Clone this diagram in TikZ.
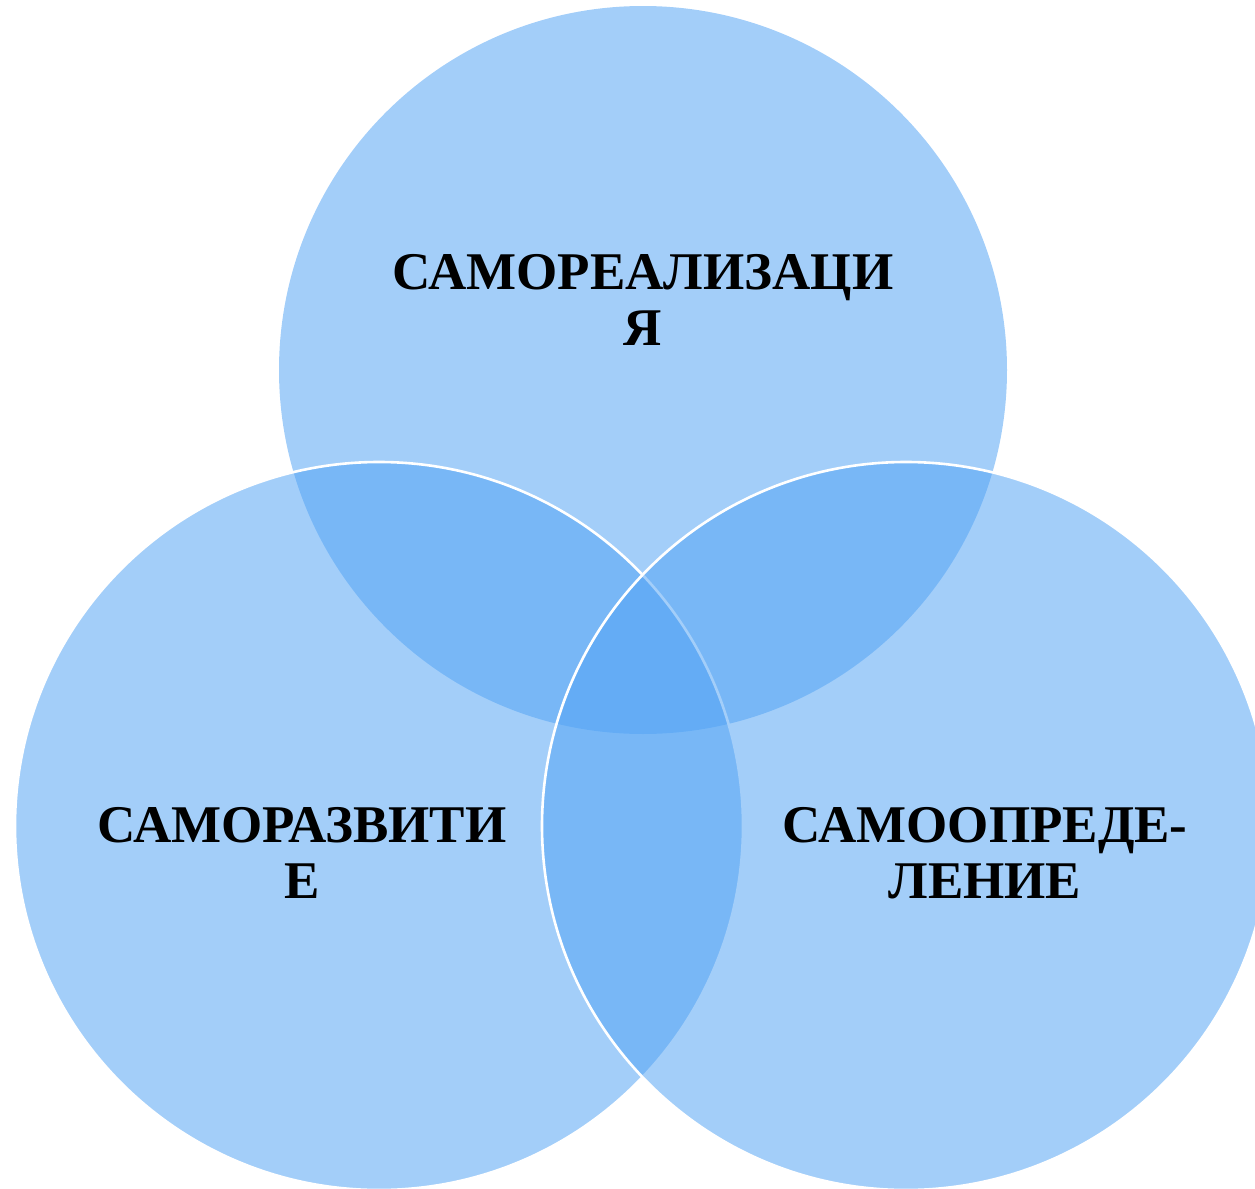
\documentclass[tikz,border=0pt]{standalone}
\usepackage{fontspec}
\setmainfont{Liberation Serif}
\definecolor{vennblue}{RGB}{82,163,244}
\begin{document}
\begin{tikzpicture}[x=0.5pt,y=-0.5pt,
  venn/.style={fill=vennblue,fill opacity=0.53},
  vennline/.style={draw=white,line width=1.3pt},
  lbl/.style={font=\fontsize{26.5pt}{28pt}\selectfont\bfseries,align=center,anchor=base,inner sep=0pt}]
\useasboundingbox (0,0) rectangle (1255,1189);
\begin{scope}
\clip (0,0) rectangle (1255,1189);
\path[venn] (643,370) circle[radius=364];
\path[venn,vennline] (379,826) circle[radius=364];
\path[venn,vennline] (906,826) circle[radius=364];
\end{scope}
\node[lbl] (top) at (643,345) {САМОРЕАЛИЗАЦИ\\Я};
\node[lbl] (left) at (302,898) {САМОРАЗВИТИ\\Е};
\node[lbl] (right) at (985,898) {САМООПРЕДЕ-\\ЛЕНИЕ};
\end{tikzpicture}
\end{document}
